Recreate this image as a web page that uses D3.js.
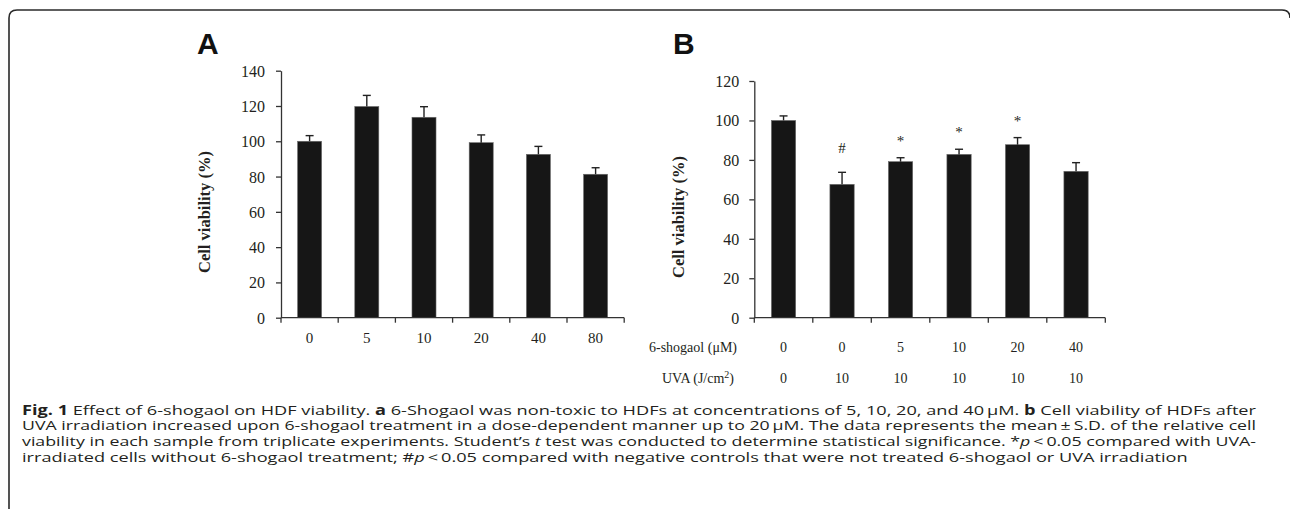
<!DOCTYPE html>
<html>
<head>
<meta charset="utf-8">
<script src="https://cdn.jsdelivr.net/npm/d3@7"></script>
<style>
  html, body { margin: 0; padding: 0; background: #fff; }
  svg { display: block; }
</style>
</head>
<body>
<svg id="chart" width="1290" height="509"></svg>
<script>
// ---------- data ----------
const categoriesA = ["0", "5", "10", "20", "40", "80"];
const valuesA = [100, 119.7, 113.6, 99.2, 92.6, 81.3];
const errorsA = [3.2, 6.3, 6.0, 4.4, 4.5, 3.7];
const yTicksA = [0, 20, 40, 60, 80, 100, 120, 140];

const shogaolB = ["0", "0", "5", "10", "20", "40"];
const uvaB = ["0", "10", "10", "10", "10", "10"];
const valuesB = [100, 67.6, 79.1, 82.8, 87.7, 74.2];
const errorsB = [2.3, 6.1, 2.0, 2.6, 3.6, 4.4];
const markersB = ["", "#", "*", "*", "*", ""];
const yTicksB = [0, 20, 40, 60, 80, 100, 120];

const captionLines = [
  [["b", "Fig. 1"], ["n", " Effect of 6-shogaol on HDF viability. "], ["b", "a"], ["n", " 6-Shogaol was non-toxic to HDFs at concentrations of 5, 10, 20, and 40\u2009\u03bcM. "], ["b", "b"], ["n", " Cell viability of HDFs after"]],
  [["n", "UVA irradiation increased upon 6-shogaol treatment in a dose-dependent manner up to 20\u2009\u03bcM. The data represents the mean\u2009\u00b1\u2009S.D. of the relative cell"]],
  [["n", "viability in each sample from triplicate experiments. Student\u2019s "], ["i", "t"], ["n", " test was conducted to determine statistical significance. *"], ["i", "p"], ["n", "\u2009<\u20090.05 compared with UVA-"]],
  [["n", "irradiated cells without 6-shogaol treatment; #"], ["i", "p"], ["n", "\u2009<\u20090.05 compared with negative controls that were not treated 6-shogaol or UVA irradiation"]]
];

// ---------- setup ----------
const svg = d3.select("#chart");
const serif = "'Liberation Serif', 'Times New Roman', serif";
const sans = "'Liberation Sans', Arial, sans-serif";
const ink = "#231f20";
const barFill = "#161616";

// frame
svg.append("path")
  .attr("d", "M9,520 L9,18 Q9,10 17,10 L1282,10 Q1290,10 1290,18")
  .attr("fill", "none").attr("stroke", "#2a2a2a").attr("stroke-width", 1.6);

function panel(opts) {
  const g = svg.append("g");
  const n = opts.values.length;
  const x = d3.scaleBand().domain(d3.range(n)).range(opts.xRange)
    .paddingInner(opts.padInner).paddingOuter(opts.padInner / 2);
  const y = d3.scaleLinear().domain([0, opts.yMax]).range(opts.yRange);

  // bars
  g.selectAll("rect.bar").data(opts.values).enter().append("rect")
    .attr("x", (d, i) => x(i)).attr("width", x.bandwidth())
    .attr("y", d => y(d)).attr("height", d => y(0) - y(d))
    .attr("fill", barFill).attr("stroke", "#6a6a6a").attr("stroke-width", 0.6);

  // error bars (upper)
  const capW = 8;
  opts.values.forEach((v, i) => {
    const cx = x(i) + x.bandwidth() / 2;
    const top = y(v + opts.errors[i]);
    g.append("line").attr("x1", cx).attr("x2", cx).attr("y1", y(v)).attr("y2", top)
      .attr("stroke", "#222").attr("stroke-width", 1.4);
    g.append("line").attr("x1", cx - capW / 2).attr("x2", cx + capW / 2).attr("y1", top).attr("y2", top)
      .attr("stroke", "#222").attr("stroke-width", 1.4);
  });

  // y axis
  const yAxis = d3.axisLeft(y).tickValues(opts.yTicks).tickSize(5).tickSizeOuter(0).tickPadding(opts.tickPad);
  const ya = g.append("g").attr("transform", `translate(${opts.xRange[0]},0)`).call(yAxis);
  ya.select(".domain").attr("stroke", "#333").attr("stroke-width", 1.3);
  ya.selectAll(".tick line").attr("stroke", "#333").attr("stroke-width", 1.3);
  ya.selectAll(".tick text").attr("font-family", serif).attr("font-size", 16).attr("fill", ink).attr("dy", "0.34em");

  // x axis line with ticks on band boundaries
  const bounds = d3.range(n + 1).map(i => opts.xRange[0] + i * x.step());
  g.append("line").attr("x1", opts.xRange[0]).attr("x2", opts.xRange[1])
    .attr("y1", y(0)).attr("y2", y(0)).attr("stroke", "#333").attr("stroke-width", 1.3);
  g.selectAll("line.xt").data(bounds).enter().append("line")
    .attr("x1", d => d).attr("x2", d => d).attr("y1", y(0)).attr("y2", y(0) + 5)
    .attr("stroke", "#333").attr("stroke-width", 1.3);

  // y title
  g.append("text")
    .attr("transform", `translate(${opts.titleX},${opts.titleY}) rotate(-90)`)
    .attr("text-anchor", "middle").attr("font-family", serif).attr("font-weight", "bold")
    .attr("font-size", 16.5).attr("fill", ink).text("Cell viability (%)");

  // panel letter
  g.append("text").attr("x", opts.letterX).attr("y", 54)
    .attr("font-family", sans).attr("font-weight", "bold").attr("font-size", 30)
    .attr("fill", "#111").text(opts.letter);

  return { g, x, y };
}

// ---------- panel A ----------
const A = panel({
  values: valuesA, errors: errorsA, yTicks: yTicksA, yMax: 140,
  xRange: [281, 624.2], yRange: [317.7, 70.7], padInner: 0.58, tickPad: 11,
  titleX: 210, titleY: 212, letter: "A", letterX: 197
});
A.g.selectAll("text.xl").data(categoriesA).enter().append("text")
  .attr("x", (d, i) => A.x(i) + A.x.bandwidth() / 2).attr("y", 343)
  .attr("text-anchor", "middle").attr("font-family", serif).attr("font-size", 15)
  .attr("fill", ink).text(d => d);

// ---------- panel B ----------
const B = panel({
  values: valuesB, errors: errorsB, yTicks: yTicksB, yMax: 120,
  xRange: [754.3, 1105.3], yRange: [317.7, 81], padInner: 0.585, tickPad: 10,
  titleX: 684, titleY: 217, letter: "B", letterX: 673
});
// significance markers
B.g.selectAll("text.mk").data(markersB).enter().append("text")
  .attr("x", (d, i) => B.x(i) + B.x.bandwidth() / 2)
  .attr("y", (d, i) => B.y(valuesB[i] + errorsB[i]) - (d === "#" ? 19 : 12))
  .attr("text-anchor", "middle").attr("font-family", serif).attr("font-size", 15)
  .attr("fill", ink).text(d => d);

// rows of the data table
const rowFont = 14;
B.g.append("text").attr("x", 737).attr("y", 352).attr("text-anchor", "end")
  .attr("font-family", serif).attr("font-size", rowFont).attr("fill", ink).text("6-shogaol (\u03bcM)");
const uvaLabel = B.g.append("text").attr("x", 734).attr("y", 383).attr("text-anchor", "end")
  .attr("font-family", serif).attr("font-size", rowFont).attr("fill", ink);
uvaLabel.append("tspan").text("UVA (J/cm");
uvaLabel.append("tspan").attr("font-size", 10).attr("dy", -5).text("2");
uvaLabel.append("tspan").attr("dy", 5).text(")");

B.g.selectAll("text.r1").data(shogaolB).enter().append("text")
  .attr("x", (d, i) => B.x(i) + B.x.bandwidth() / 2).attr("y", 352)
  .attr("text-anchor", "middle").attr("font-family", serif).attr("font-size", rowFont)
  .attr("fill", ink).text(d => d);
B.g.selectAll("text.r2").data(uvaB).enter().append("text")
  .attr("x", (d, i) => B.x(i) + B.x.bandwidth() / 2).attr("y", 383)
  .attr("text-anchor", "middle").attr("font-family", serif).attr("font-size", rowFont)
  .attr("fill", ink).text(d => d);

// ---------- caption ----------
const capX = 22, capRight = 1256, capFont = 13.4;
const baselines = [414.5, 430.2, 445.9, 461.6];
const capTexts = captionLines.map((parts, li) => {
  const t = svg.append("text").attr("x", capX).attr("y", baselines[li])
    .attr("font-family", "'Open Sans', 'Noto Sans', sans-serif").attr("font-size", capFont).attr("fill", ink);
  parts.forEach(([style, s]) => {
    const ts = t.append("tspan").text(s);
    if (style === "b") ts.attr("font-weight", "bold");
    if (style === "i") ts.attr("font-style", "italic");
  });
  return t;
});
const natural = capTexts.map(t => t.node().getComputedTextLength());
const ratio = (capRight - capX) / natural[0];
capTexts.forEach((t, i) => {
  const len = i < 3 ? (capRight - capX) : natural[i] * ratio;
  t.attr("textLength", len).attr("lengthAdjust", "spacingAndGlyphs");
});
</script>
</body>
</html>
